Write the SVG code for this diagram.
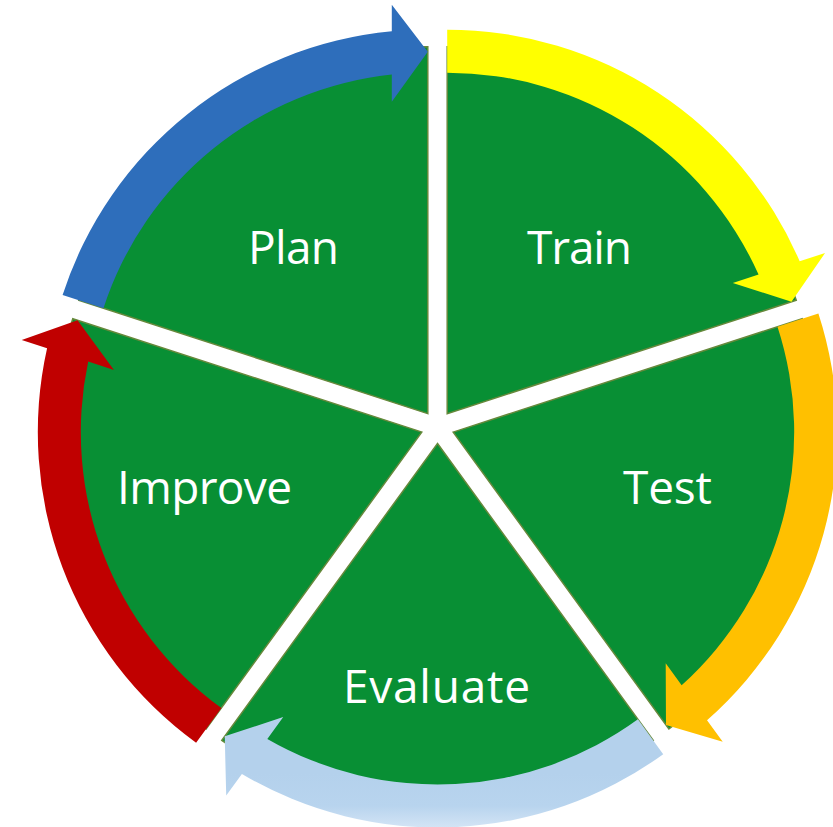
<svg xmlns="http://www.w3.org/2000/svg" xmlns:xlink="http://www.w3.org/1999/xlink" width="833" height="827" viewBox="0 0 833 827">
  <style>
    .wedge { fill: #088F34; stroke: #66893B; stroke-width: 1.5; stroke-linejoin: miter; }
    .label { fill: #FFFFFF; font-family: "Open Sans", "Liberation Sans", sans-serif; font-size: 46px; text-anchor: middle; }
  </style>
  <defs>
    <!-- One pie slice, apex at the origin, spanning -90deg to -18deg -->
    <path id="wedge-shape" d="M0,0 L0,-367 A367,367 0 0 1 349.04,-113.41 Z"/>
    <!-- Curved arrow riding on the slice rim, head at the -18deg edge -->
    <path id="arrow-shape" d="M0,-384 A384,384 0 0 1 352.48,-152.38 L377.86,-160.63 L344.28,-111.87 L285.61,-130.65 L311.37,-139.03 A341,341 0 0 0 0,-341 Z"/>
    <!-- Fade toward the bottom rim of the Evaluate arrow (local coords, rotated 144deg) -->
    <linearGradient id="evalFade" gradientUnits="userSpaceOnUse" x1="194" y1="-267" x2="225.7" y2="-310.7">
      <stop offset="0" stop-color="#B4D1EC"/>
      <stop offset="0.6" stop-color="#B8D4EE"/>
      <stop offset="1" stop-color="#D3E4F5"/>
    </linearGradient>
  </defs>

  <!-- Pie slices, each pushed out from the centre along its bisector -->
  <g id="plan">
    <use xlink:href="#wedge-shape" class="wedge" transform="translate(427.80 413.65) rotate(-72)"/>
    <text class="label" x="293.5" y="264" textLength="91" lengthAdjust="spacing">Plan</text>
  </g>
  <g id="train">
    <use xlink:href="#wedge-shape" class="wedge" transform="translate(447.20 413.65)"/>
    <text class="label" x="579.5" y="264" textLength="105" lengthAdjust="spacing">Train</text>
  </g>
  <g id="test">
    <use xlink:href="#wedge-shape" class="wedge" transform="translate(453.19 432.10) rotate(72)"/>
    <text class="label" x="667.5" y="504" textLength="89" lengthAdjust="spacing">Test</text>
  </g>
  <g id="evaluate">
    <use xlink:href="#wedge-shape" class="wedge" transform="translate(437.50 443.50) rotate(144)"/>
    <text class="label" x="436.5" y="703" textLength="187" lengthAdjust="spacing">Evaluate</text>
  </g>
  <g id="improve">
    <use xlink:href="#wedge-shape" class="wedge" transform="translate(421.81 432.10) rotate(216)"/>
    <text class="label" x="204.5" y="504" textLength="175" lengthAdjust="spacing">Improve</text>
  </g>

  <!-- Cycle arrows around the rim -->
  <g id="connectors">
    <use xlink:href="#arrow-shape" fill="#2E6EBB" transform="translate(427.80 413.65) rotate(-72)"/>
    <use xlink:href="#arrow-shape" fill="#FFFF00" transform="translate(447.20 413.65)"/>
    <use xlink:href="#arrow-shape" fill="#FFC000" transform="translate(453.19 432.10) rotate(72)"/>
    <use xlink:href="#arrow-shape" fill="url(#evalFade)" transform="translate(437.50 443.50) rotate(144)"/>
    <use xlink:href="#arrow-shape" fill="#C00000" transform="translate(421.81 432.10) rotate(216)"/>
  </g>
</svg>
